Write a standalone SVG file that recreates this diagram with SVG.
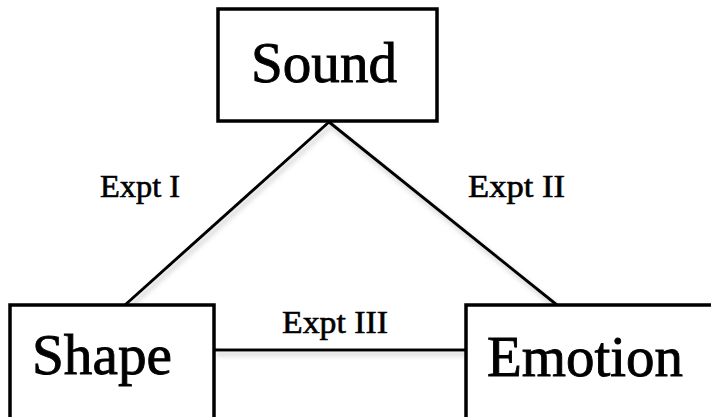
<svg xmlns="http://www.w3.org/2000/svg" width="711" height="417" viewBox="0 0 711 417">
  <style>
    .box { fill: #ffffff; stroke: #000000; stroke-width: 3.5; }
    .name { font-family: "Liberation Serif", "Times New Roman", serif; font-size: 58px; fill: #000000; stroke: #000000; stroke-width: 0.9; }
    .lbl { font-family: "Liberation Serif", "Times New Roman", serif; font-size: 32px; fill: #000000; stroke: #000000; stroke-width: 0.6; }
    .link { stroke: #000000; stroke-width: 3; fill: none; }
  </style>
  <defs>
    <filter id="soft" x="-20%" y="-20%" width="140%" height="160%">
      <feDropShadow dx="2" dy="4" stdDeviation="2.5" flood-color="#888888" flood-opacity="0.45"/>
    </filter>
  </defs>
  <rect width="711" height="417" fill="#ffffff"/>

  <g id="connectors" filter="url(#soft)">
    <line class="link" x1="329" y1="122" x2="125" y2="305"/>
    <line class="link" x1="329" y1="122" x2="557" y2="305"/>
    <line class="link" x1="214" y1="350" x2="466" y2="350"/>
  </g>

  <g id="labels">
    <text class="lbl" x="100" y="197" textLength="80" lengthAdjust="spacingAndGlyphs">Expt I</text>
    <text class="lbl" x="468" y="197" textLength="97" lengthAdjust="spacingAndGlyphs">Expt II</text>
    <text class="lbl" x="282" y="333" textLength="106" lengthAdjust="spacingAndGlyphs">Expt III</text>
  </g>

  <g id="sound">
    <rect class="box" x="218" y="9" width="219" height="112"/>
    <text class="name" x="251" y="82" textLength="146" lengthAdjust="spacingAndGlyphs">Sound</text>
  </g>

  <g id="shape">
    <rect class="box" x="10" y="305" width="204" height="130"/>
    <text class="name" x="32" y="374" textLength="140" lengthAdjust="spacingAndGlyphs">Shape</text>
  </g>

  <g id="emotion">
    <rect class="box" x="466" y="305" width="260" height="130"/>
    <text class="name" x="487" y="376" textLength="196" lengthAdjust="spacingAndGlyphs">Emotion</text>
  </g>
</svg>
